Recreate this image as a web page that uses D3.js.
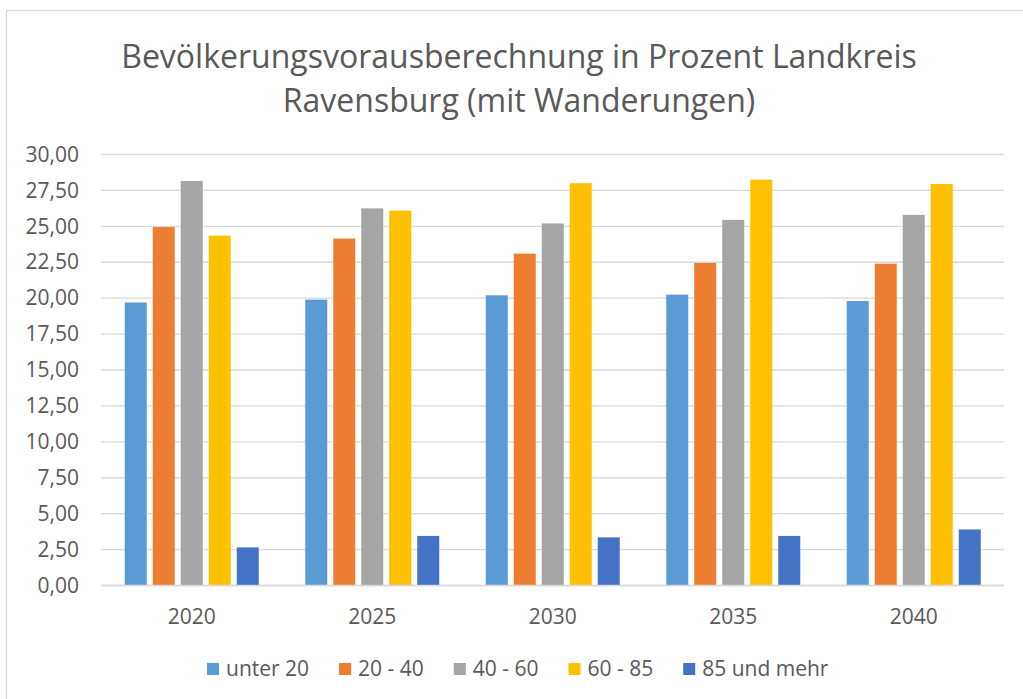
<!DOCTYPE html>
<html><head><meta charset="utf-8">
<script src="https://cdn.jsdelivr.net/npm/d3@7"></script>
<style>html,body{margin:0;padding:0;background:#fff;}svg{display:block;}</style>
</head><body>
<svg id="chart" width="1023" height="699"></svg>
<script>
const years = ["2020","2025","2030","2035","2040"];
const seriesNames = ["unter 20","20 - 40","40 - 60","60 - 85","85 und mehr"];
const unter20 = [19.70, 19.90, 20.20, 20.25, 19.80];
const v20_40 = [24.95, 24.15, 23.10, 22.45, 22.40];
const v40_60 = [28.15, 26.25, 25.20, 25.45, 25.80];
const v60_85 = [24.35, 26.10, 28.00, 28.25, 27.95];
const v85plus = [2.65, 3.45, 3.35, 3.45, 3.90];
const yTicks = [0, 2.5, 5, 7.5, 10, 12.5, 15, 17.5, 20, 22.5, 25, 27.5, 30];
const titleLines = ["Bevölkerungsvorausberechnung in Prozent Landkreis", "Ravensburg (mit Wanderungen)"];
const colors = ["#5b9bd5","#ed7d31","#a5a5a5","#ffc000","#4472c4"];

const values = [unter20, v20_40, v40_60, v60_85, v85plus];
const FONT = "'Open Sans', 'Noto Sans', sans-serif";
const TXT = "#595959";
const svg = d3.select("#chart");

// frame
svg.append("rect").attr("x",6.5).attr("y",10.5).attr("width",1030).attr("height",700)
  .attr("fill","#fff").attr("stroke","#d9d9d9").attr("stroke-width",1.3);

// title
svg.append("g").selectAll("text").data(titleLines).join("text")
  .attr("x",519).attr("y",(d,i)=>68+i*44)
  .attr("text-anchor","middle").attr("font-family",FONT).attr("font-size",32)
  .attr("fill",TXT).text(d=>d);

const y = d3.scaleLinear().domain([0,30]).range([585.5,154.5]);
const x0 = d3.scaleBand().domain(years).range([101.5,1004]);
const x1 = d3.scaleBand().domain(seriesNames).range([23.25,157.25]).paddingInner(0.214);

// gridlines
svg.append("g").selectAll("line").data(yTicks).join("line")
  .attr("x1",101).attr("x2",1004).attr("y1",d=>y(d)).attr("y2",d=>y(d))
  .attr("stroke","#d9d9d9").attr("stroke-width",1.3);

// y axis labels
const fmt = d => d3.format(".2f")(d).replace(".",",");
const yAxis = d3.axisLeft(y).tickValues(yTicks).tickFormat(fmt).tickSize(0).tickPadding(0);
const gy = svg.append("g").attr("transform","translate(79,0)").call(yAxis);
gy.select(".domain").remove();
gy.selectAll("text").attr("font-family",FONT).attr("font-size",21).attr("fill",TXT);

// bars
const groups = svg.append("g").selectAll("g").data(years).join("g")
  .attr("transform",d=>`translate(${x0(d)},0)`);
groups.selectAll("rect").data((yr,i)=>seriesNames.map((s,j)=>({s,j,v:values[j][i]}))).join("rect")
  .attr("x",d=>x1(d.s)).attr("width",x1.bandwidth())
  .attr("y",d=>y(d.v)).attr("height",d=>y(0)-y(d.v))
  .attr("fill",d=>colors[d.j]);

// x axis
const xAxis = d3.axisBottom(x0).tickSize(0).tickPadding(0);
const gx = svg.append("g").attr("transform","translate(0,617)").call(xAxis);
gx.select(".domain").remove();
gx.selectAll("text").attr("font-family",FONT).attr("font-size",21).attr("fill",TXT).attr("dy","0.35em");
svg.append("line").attr("x1",101).attr("x2",1004).attr("y1",y(0)).attr("y2",y(0))
  .attr("stroke","#d9d9d9").attr("stroke-width",1.3);

// legend
const lg = svg.append("g");
let lx = 207;
seriesNames.forEach((s,i)=>{
  lg.append("rect").attr("x",lx).attr("y",663).attr("width",12).attr("height",12).attr("fill",colors[i]);
  const t = lg.append("text").attr("x",lx+19).attr("y",669).attr("dy","0.35em")
    .attr("font-family",FONT).attr("font-size",21).attr("fill",TXT).text(s);
  lx += 19 + t.node().getComputedTextLength() + 30;
});
</script>
</body></html>
